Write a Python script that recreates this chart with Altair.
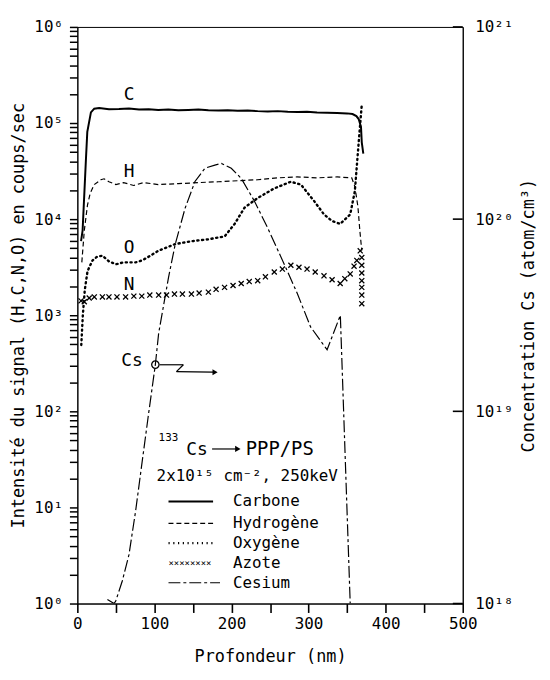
import altair as alt
import pandas as pd

# ---------------- data ----------------
C_depth = [4.8, 6.8, 11.2, 12.9, 17.6, 21.9, 28.3, 41, 54, 67, 80, 92.6, 105, 118, 131, 144, 157, 170,
           183, 195, 208, 221, 234, 247, 260, 273, 286, 298, 311, 324, 337, 350, 357, 362, 365, 368, 369, 371]
C_counts = [5900, 7600, 43000, 81000, 129000, 141000, 143000, 139000, 140000, 142000, 138000, 139000,
            137000, 138000, 136000, 137000, 138000, 136000, 135000, 136000, 134000, 135000, 133000, 132000,
            133000, 131000, 130000, 131000, 129000, 128000, 127000, 126000, 124000, 118000, 110000, 91000,
            63000, 48000]

H_depth = [5.8, 9, 13.2, 16.7, 21.9, 30.5, 34.7, 41, 50, 60, 73, 86, 105, 131, 157, 183, 208, 234, 260,
           285, 311, 337, 356, 360, 364, 366.5, 369]
H_counts = [3550, 7600, 14100, 18600, 22900, 25700, 26300, 24500, 22900, 24000, 22400, 24000, 22900,
            23400, 24000, 24500, 25100, 25700, 26900, 27500, 26900, 27500, 26900, 21900, 13500, 7600, 4700]

O_depth = [5.1, 7.1, 9.6, 13.2, 19.7, 25.7, 32.5, 41, 50, 60, 75.5, 84, 92.6, 105, 127, 148, 170, 191,
           204, 217, 234, 255.5, 277, 290, 307, 320, 330.5, 341, 354, 360, 365, 369]
O_counts = [490, 1000, 1820, 2880, 3720, 4070, 4170, 3630, 3390, 3550, 3550, 3720, 4070, 4680, 5500,
            5890, 6170, 6610, 8910, 13200, 16600, 20900, 24500, 22900, 15500, 11200, 9550, 8910, 11200,
            19500, 63000, 155000]

N_depth = [4.8, 9, 15.4, 22, 32.5, 41, 51.4, 62.6, 73.3, 83.6, 94, 105.5, 115.7, 126, 136.3, 148, 158,
           170, 180, 191, 202, 212.6, 223, 234, 244, 255.5, 266, 277, 287.5, 298, 308.6, 320, 330.5, 341,
           347, 354, 359, 362.6, 367, 369, 369, 369, 369, 369, 369, 369]
N_counts = [1410, 1380, 1510, 1550, 1550, 1550, 1550, 1550, 1580, 1580, 1620, 1620, 1620, 1660, 1660,
            1660, 1700, 1740, 1860, 1950, 2040, 2140, 2240, 2290, 2510, 2820, 3020, 3310, 3160, 3020,
            2820, 2570, 2340, 2140, 2400, 2690, 3240, 3720, 4680, 3980, 3310, 2750, 2290, 1950, 1620, 1320]

Cs_depth = [39, 47.6, 49.8, 58.3, 66.9, 75.5, 84, 92.6, 101.2, 105.5, 118.3, 127, 139.8, 152.6, 165.5,
            178.4, 186.9, 199.7, 212.6, 229.8, 246.9, 268.4, 285.5, 302.6, 324, 341.2, 354]
Cs_conc = [1.05e18, 1.0e18, 1.03e18, 1.31e18, 1.79e18, 3.01e18, 5.44e18, 9.84e18, 1.75e19, 2.55e19,
           4.98e19, 7.41e19, 1.14e20, 1.57e20, 1.84e20, 1.91e20, 1.95e20, 1.84e20, 1.63e20, 1.24e20,
           9.0e19, 5.83e19, 4.09e19, 2.75e19, 2.09e19, 3.16e19, 1.0e18]
Cs_marker_index = 8  # the circled point (about 100 nm)

series_names = ["Carbone", "Hydrogène", "Oxygène", "Azote", "Cesium"]
curve_labels = ["C", "H", "O", "N", "Cs"]
label_depth = [67, 67, 67, 67, 71]
label_counts = [195000, 31000, 5000, 2040, 330]

x_ticks = list(range(0, 501, 50))
left_ticks = [k * 10 ** e for e in range(0, 6) for k in range(1, 10)] + [10 ** 6]
right_ticks = [1e18, 1e19, 1e20, 1e21]

# ---------------- layout / style ----------------
W, H = 389, 582
FONT = "DejaVu Sans Mono"
INK = "#000000"
XPATH = "M-1,-1L1,1M-1,1L1,-1"

rows = []
for name, d, v in [("Carbone", C_depth, C_counts), ("Hydrogène", H_depth, H_counts),
                   ("Oxygène", O_depth, O_counts), ("Azote", N_depth, N_counts)]:
    for a, b in zip(d, v):
        rows.append({"series": name, "depth": a, "counts": b})
df = pd.DataFrame(rows)
cs_df = pd.DataFrame({"depth": Cs_depth, "conc": Cs_conc})
lab_df = pd.DataFrame({"label": curve_labels, "depth": label_depth, "counts": label_counts})
one = pd.DataFrame({"a": [0]})
rt_df = pd.DataFrame({"depth": [500] * len(right_ticks), "conc": right_ticks})

x_enc = alt.X("depth:Q", scale=alt.Scale(domain=[0, 500], nice=False, zero=False),
              axis=alt.Axis(values=x_ticks, labelExpr="datum.value % 100 == 0 ? datum.label : ''",
                            title="Profondeur (nm)", ticks=True, tickSize=9, tickWidth=1.6,
                            tickColor=INK, tickOpacity=1, labelPadding=3, titlePadding=18,
                            labelFlush=False, labelOverlap=False, grid=False))

sup = "['⁰','¹','²','³','⁴','⁵','⁶']"
left_expr = ("abs(log(datum.value)/LN10 - round(log(datum.value)/LN10)) < 0.001 ? '10' + "
             + sup + "[round(log(datum.value)/LN10)] : ''")
y_left = alt.Y("counts:Q", scale=alt.Scale(type="log", domain=[1, 1e6], nice=False),
               axis=alt.Axis(values=left_ticks, labelExpr=left_expr, orient="left", ticks=True,
                             tickSize=8, tickWidth=1.5, tickColor=INK, tickOpacity=1,
                             labelPadding=7, titlePadding=6, labelOverlap=False, grid=False,
                             title="Intensité du signal (H,C,N,O) en coups/sec"))

right_expr = "'10' + ['¹⁸','¹⁹','²⁰','²¹'][round(log(datum.value)/LN10) - 18]"
y_right = alt.Y("conc:Q", scale=alt.Scale(type="log", domain=[1e18, 1e21], nice=False),
                axis=alt.Axis(values=right_ticks, labelExpr=right_expr, orient="right", ticks=False,
                              labelPadding=12, titlePadding=25, labelOverlap=False, grid=False,
                              titleAngle=270, title="Concentration Cs (atom/cm³)"))

base = alt.Chart(df).encode(x=x_enc, y=y_left)
c_line = base.transform_filter(alt.datum.series == "Carbone").mark_line(color=INK, strokeWidth=2, clip=True)
h_line = base.transform_filter(alt.datum.series == "Hydrogène").mark_line(
    color=INK, strokeWidth=1.2, strokeDash=[5, 3], clip=True)
o_line = base.transform_filter(alt.datum.series == "Oxygène").mark_line(
    color=INK, strokeWidth=2.4, strokeDash=[1.2, 3.6], strokeCap="round", clip=True)
n_pts = base.transform_filter(alt.datum.series == "Azote").mark_point(
    shape=XPATH, size=26, filled=False, color=INK, strokeWidth=1.3, opacity=1, clip=True)

labels = alt.Chart(lab_df).mark_text(font=FONT, fontSize=18, color=INK, baseline="middle").encode(
    x=x_enc, y=y_left, text="label:N")


def txt(s, x, y, size=16, align="left", baseline="alphabetic"):
    return alt.Chart(one).mark_text(text=s, font=FONT, fontSize=size, color=INK, align=align,
                                    baseline=baseline).encode(x=alt.value(x), y=alt.value(y))


def seg(x1, y1, x2, y2, dash=None, width=1.2):
    kw = dict(color=INK, strokeWidth=width)
    if dash:
        kw["strokeDash"] = dash
    return alt.Chart(one).mark_rule(**kw).encode(
        x=alt.value(x1), y=alt.value(y1), x2=alt.value(x2), y2=alt.value(y2))


def head(x, y, size=40):
    return alt.Chart(one).mark_point(shape="triangle-right", size=size, filled=True, color=INK,
                                     opacity=1).encode(x=alt.value(x), y=alt.value(y))


# legend (inside the plot)
leg_y = [479, 501, 521, 541, 561]
legend = [
    seg(92, leg_y[0], 137, leg_y[0], width=2),
    seg(92, leg_y[1], 137, leg_y[1], dash=[5, 3]),
    seg(92, leg_y[2], 137, leg_y[2], dash=[1.2, 3.6], width=2.4),
    txt("××××××××", 92, leg_y[3], size=9, baseline="middle"),
    seg(92, leg_y[4], 144, leg_y[4], dash=[12, 3, 3, 3]),
]
for name, yy in zip(series_names, leg_y):
    legend.append(txt(name, 157, yy, size=16, baseline="middle"))

# implantation text block
block = [
    txt("133", 82, 418, size=11),
    txt("Cs", 110, 432, size=18),
    seg(136, 426, 160, 426),
    head(162, 426),
    txt("PPP/PS", 170, 432, size=19),
    txt("2x10¹⁵ cm⁻², 250keV", 80, 458, size=16),
]

# arrow from the Cs marker toward the right-hand axis
arrow = [
    seg(83, 341, 107, 341),
    seg(107, 341, 100, 348),
    seg(100, 348, 137, 348.5),
    head(139, 348.5, size=36),
]

left_group = alt.layer(c_line, h_line, o_line, n_pts, labels, *legend, *block, *arrow)

cs_line = alt.Chart(cs_df).mark_line(color=INK, strokeWidth=1.2, strokeDash=[12, 3, 3, 3], clip=True).encode(
    x=x_enc, y=y_right)
cs_circle = alt.Chart(cs_df.iloc[[Cs_marker_index]]).mark_point(
    shape="circle", size=55, filled=False, color=INK, strokeWidth=1.3, opacity=1).encode(x=x_enc, y=y_right)
rt = alt.Chart(rt_df).mark_tick(color=INK, thickness=1.6, size=10, orient="horizontal", opacity=1,
                                xOffset=-5).encode(x=x_enc, y=y_right)
right_group = alt.layer(cs_line, cs_circle, rt)

chart = alt.layer(left_group, right_group).resolve_scale(y="independent").properties(
    width=W, height=H,
    background="white",
    padding={"left": 70, "top": 16, "right": 80, "bottom": 66},
    autosize=alt.AutoSizeParams(type="none"),
).configure_view(stroke=INK, strokeWidth=1).configure_axis(
    labelFont=FONT, titleFont=FONT, labelFontSize=16, titleFontSize=17, titleFontWeight="normal",
    domainColor=INK, labelColor=INK, titleColor=INK, tickColor=INK, grid=False,
)

chart.save("out.html", embed_options={"renderer": "svg", "actions": False})
